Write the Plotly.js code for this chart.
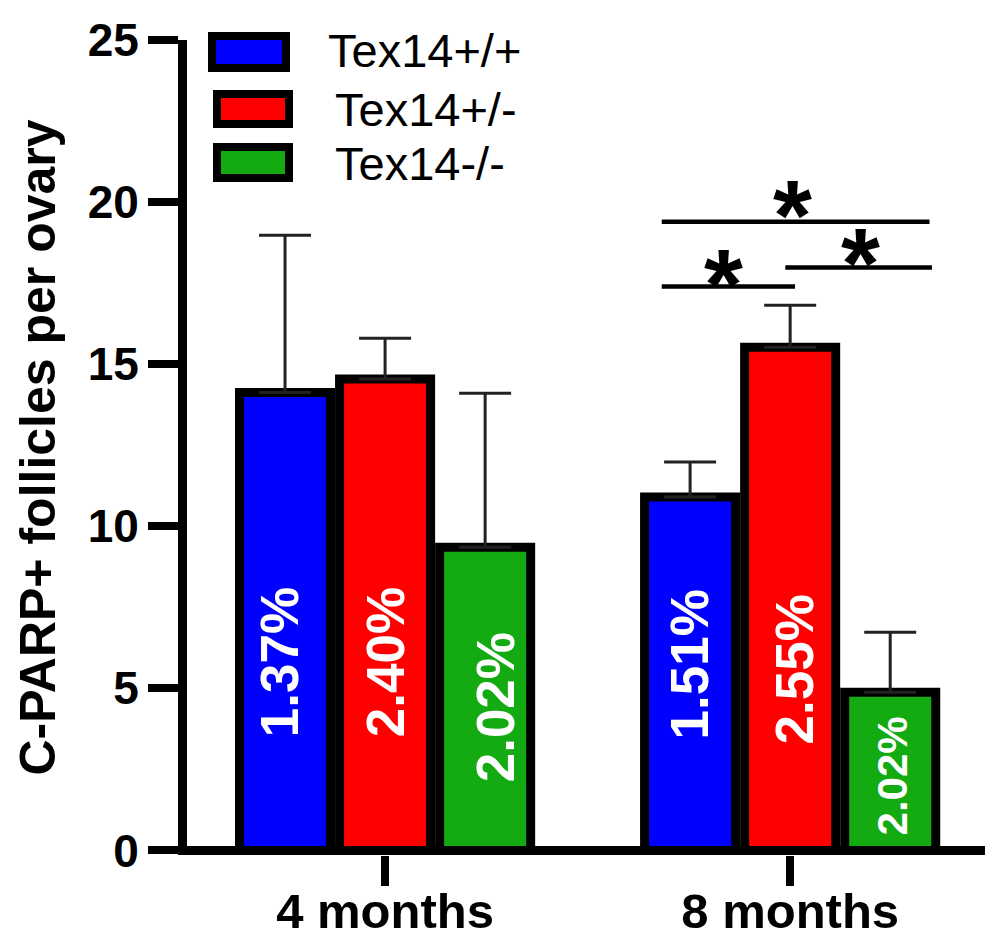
<!DOCTYPE html>
<html>
<head>
<meta charset="utf-8">
<script src="https://cdn.plot.ly/plotly-3.0.1.min.js"></script>
<style>
  html, body { margin: 0; padding: 0; background: #ffffff; }
  #chart { width: 985px; height: 937px; }
</style>
</head>
<body>
<div id="chart"></div>
<script>
// ---------------- data ----------------
var categories = ['4 months', '8 months'];
var seriesNames = ['Tex14+/+', 'Tex14+/-', 'Tex14-/-'];
var wtValues  = [14.13, 10.90];
var wtErrors  = [4.85, 1.08];
var hetValues = [14.54, 15.52];
var hetErrors = [1.26, 1.30];
var koValues  = [9.35, 4.88];
var koErrors  = [4.75, 1.85];
var wtPct  = ['1.37%', '1.51%'];
var hetPct = ['2.40%', '2.55%'];
var koPct  = ['2.02%', '2.02%'];
var yTickValues = [0, 5, 10, 15, 20, 25];
var sigLabel = '*';

// ---------------- layout geometry ----------------
var W = 985, H = 937;
var M = {l: 187, r: 0, t: 40, b: 82};
var plotW = W - M.l - M.r, plotH = H - M.t - M.b;
function px2x(px) { return (px - M.l) / plotW; }
function px2y(py) { return (H - M.b - py) / plotH; }

var FONT = 'Liberation Sans, Arial, Helvetica, sans-serif';
var colors = ['#0000ff', '#ff0000', '#14aa12'];
var values = [wtValues, hetValues, koValues];
var errors = [wtErrors, hetErrors, koErrors];
var pcts = [wtPct, hetPct, koPct];

var traces = values.map(function (v, i) {
  return {
    type: 'bar',
    name: seriesNames[i],
    x: categories,
    y: v,
    marker: {color: colors[i], line: {color: '#000000', width: 9}},
    error_y: {
      type: 'data', symmetric: false, array: errors[i],
      arrayminus: v.map(function () { return 0; }),
      color: '#222222', thickness: 3, width: 26, visible: true
    },
    showlegend: false,
    hoverinfo: 'skip'
  };
});

// bar-label placement (style): offsets of each group member, label centres
var barOffset = [-0.247, 0, 0.247];
var labelY = [[5.81, 5.74], [5.81, 5.59], [4.42, 2.29]];
var labelShift = [[-6, -1], [0, 4], [10, 2]];
var labelSize = [[53, 53], [53, 53], [53, 42]];

var annotations = [];
pcts.forEach(function (arr, i) {
  arr.forEach(function (txt, j) {
    annotations.push({
      xref: 'x', yref: 'y', x: j + barOffset[i], y: labelY[i][j],
      text: txt, showarrow: false, textangle: -90,
      xanchor: 'center', yanchor: 'middle', xshift: labelShift[i][j],
      font: {family: FONT, size: labelSize[i][j], color: '#ffffff', weight: 'bold'}
    });
  });
});

// legend (manual, large swatches)
var legendBoxes = [[212, 36, 286, 68], [217, 94, 289, 124], [217, 147, 289, 178]];
var legendText = [[326, 50], [333, 110], [333, 163]];
var shapes = [];
legendBoxes.forEach(function (b, i) {
  shapes.push({
    type: 'rect', xref: 'paper', yref: 'paper',
    x0: px2x(b[0]), x1: px2x(b[2]), y0: px2y(b[3]), y1: px2y(b[1]),
    fillcolor: colors[i], line: {color: '#000000', width: 8}
  });
  annotations.push({
    xref: 'paper', yref: 'paper', x: px2x(legendText[i][0]), y: px2y(legendText[i][1]),
    xanchor: 'left', yanchor: 'middle', showarrow: false, text: seriesNames[i],
    font: {family: FONT, size: 47, color: '#000000'}
  });
});

// significance brackets (data coordinates)
var sigLines = [[0.683, 1.344, 19.39], [0.988, 1.350, 17.98], [0.683, 1.012, 17.40]];
sigLines.forEach(function (s) {
  shapes.push({type: 'line', xref: 'x', yref: 'y', x0: s[0], x1: s[1], y0: s[2], y1: s[2],
    line: {color: '#000000', width: 4.5}});
});
var sigStars = [[1.007, 20.07], [0.836, 17.94], [1.173, 18.58]];
sigStars.forEach(function (s) {
  annotations.push({xref: 'x', yref: 'y', x: s[0], y: s[1], text: sigLabel, showarrow: false,
    xanchor: 'center', yanchor: 'middle', yshift: -15,
    font: {family: FONT, size: 100, color: '#000000', weight: 'bold'}});
});

var layout = {
  width: W, height: H,
  margin: M,
  paper_bgcolor: '#ffffff', plot_bgcolor: '#ffffff',
  barmode: 'group', bargap: 0.259, bargroupgap: 0.09,
  showlegend: false,
  font: {family: FONT, color: '#000000'},
  xaxis: {
    type: 'category', range: [-0.489, 1.481], fixedrange: true,
    showgrid: false, zeroline: false, showline: false,
    ticks: 'outside', ticklen: 30, tickwidth: 8, tickcolor: '#000000',
    ticklabelstandoff: -17,
    tickfont: {family: FONT, size: 49, color: '#000000', weight: 'bold'}
  },
  yaxis: {
    range: [-0.14, 25], fixedrange: true,
    tickmode: 'array', tickvals: yTickValues,
    showgrid: false,
    zeroline: true, zerolinewidth: 9, zerolinecolor: '#000000',
    showline: true, linewidth: 9, linecolor: '#000000',
    ticks: 'outside', ticklen: 30, tickwidth: 8, tickcolor: '#000000',
    tickfont: {family: FONT, size: 46, color: '#000000', weight: 'bold'},
    title: {text: 'C-PARP+ follicles per ovary', standoff: 20,
      font: {family: FONT, size: 50, color: '#000000', weight: 'bold'}}
  },
  shapes: shapes,
  annotations: annotations
};

Plotly.newPlot('chart', traces, layout, {staticPlot: true, displayModeBar: false});
</script>
</body>
</html>
